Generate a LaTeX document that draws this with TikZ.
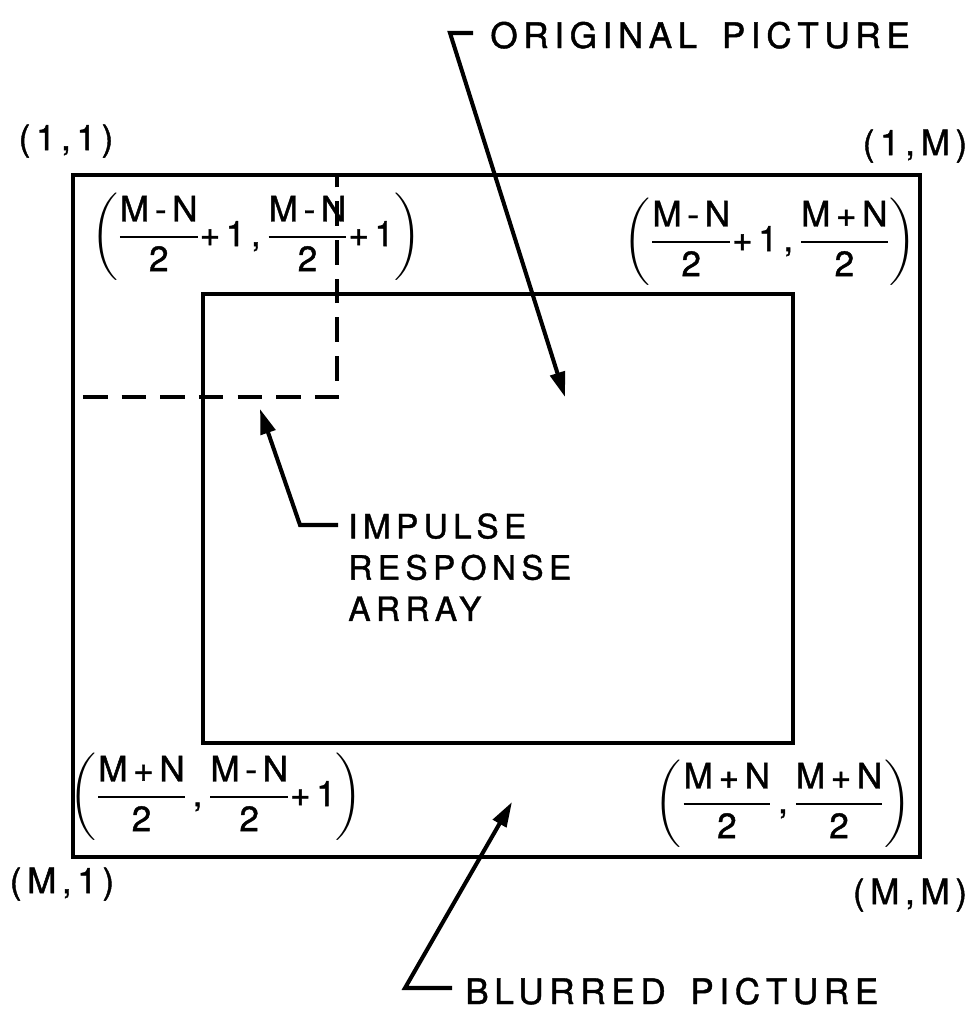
\documentclass[tikz,border=0pt]{standalone}
\usepackage{amsmath}
\usepackage{fontspec}
\setmainfont{TeX Gyre Heros}[LetterSpace=16, WordSpace=1.6, FakeBold=1.2]
\usepackage{tikz}
\usetikzlibrary{arrows.meta,positioning}
\tikzset{%
	outerbox/.style = {line width=2.8pt},
	innerbox/.style = {line width=2.5pt},
	kernelbox/.style= {line width=2.3pt, dash pattern=on 14pt off 8pt},
	pointer/.style  = {line width=2.3pt, line join=miter, -{Triangle[length=0.5cm,width=0.3cm]}},
	caption/.style  = {inner sep=0pt, font=\fontsize{20}{24}\selectfont},
	corner/.style   = {inner sep=0pt, font=\fontsize{20}{24}\selectfont},
	index/.style    = {inner sep=0pt, font=\fontsize{20}{24}\selectfont},
}
\newcommand{\fr}[2]{\genfrac{}{}{1.3pt}{0}{\text{#1}}{\text{#2}}}

\begin{document}
\begin{tikzpicture}[x=0.02cm,y=-0.02cm]
	\useasboundingbox (0,0) rectangle (979,1015);
	
	\draw[outerbox] (73,175) rectangle (920,857);
	\draw[innerbox] (203,294) rectangle (793,743);
	\draw[kernelbox] (73,175) rectangle (337,397);
	
	\node[corner] (c11) at (66,141) {(1,1)};
	\node[corner] (c1M) at (915,146) {(1,M)};
	\node[corner] (cM1) at (62,884) {(M,1)};
	\node[corner] (cMM) at (910,895) {(M,M)};
	
	\node[index] (tl) at (256,237) {$\left(\fr{M-N}{2}\text{+1,\,}\fr{M-N}{2}\text{+1}\right)$};
	\node[index] (tr) at (770,242) {$\left(\fr{M-N}{2}\text{+1,\,}\fr{M+N}{2}\right)$};
	\node[index] (bl) at (216,797) {$\left(\fr{M+N}{2}\text{\,,\,}\fr{M-N}{2}\text{+1}\right)$};
	\node[index] (br) at (783,804) {$\left(\fr{M+N}{2}\text{\,,\,}\fr{M+N}{2}\right)$};
	
	\node[caption, anchor=base west] (orig) at (490,48) {ORIGINAL PICTURE};
	\node[caption, anchor=base west] (blur) at (465,1004) {BLURRED PICTURE};
	\node[caption, anchor=north west, align=left, font=\fontsize{19}{23.5}\selectfont] (imp) at (348,513) {IMPULSE\\RESPONSE\\ARRAY};
	
	\coordinate (origbend) at (450,33);
	\coordinate (origtip) at (565,397);
	\coordinate (blurbend) at (405,988);
	\coordinate (blurtip) at (512,802);
	\coordinate (impbend) at (300,525);
	\coordinate (imptip) at (260,409);
	
	\draw[pointer] ([xshift=-0.34cm]orig.west |- origbend) -- (origbend) -- (origtip);
	\draw[pointer] ([xshift=-0.26cm]blur.west |- blurbend) -- (blurbend) -- (blurtip);
	\draw[pointer] ([xshift=-0.2cm]imp.west |- impbend) -- (impbend) -- (imptip);
\end{tikzpicture}
\end{document}
